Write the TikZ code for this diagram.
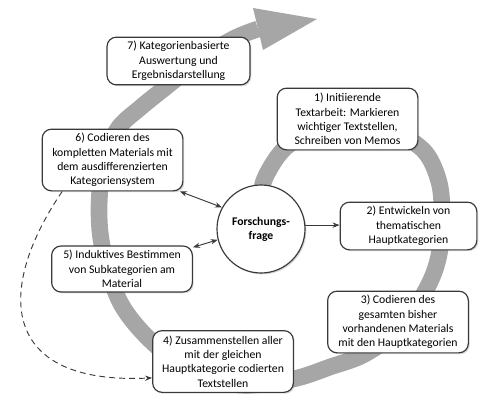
\documentclass[tikz,border=0pt]{standalone}
\usepackage{fontspec}
\setmainfont{Carlito}
\usetikzlibrary{arrows.meta,shadows}

\definecolor{bandgray}{RGB}{166,166,166}
\definecolor{edgegray}{RGB}{58,58,58}

\begin{document}
\begin{tikzpicture}[x=0.03cm,y=-0.03cm,
  >={Stealth[length=6pt,width=4.5pt]},
  stepbox/.style={draw=edgegray,line width=1pt,fill=white,rounded corners=8pt,
    align=center,minimum width=4.22cm,inner sep=2pt,
    font=\fontsize{10}{12.3}\selectfont,
    drop shadow={opacity=0.3,shadow xshift=1.2pt,shadow yshift=-1.2pt}},
  threeline/.style={minimum height=1.43cm},
  fourline/.style={minimum height=1.85cm},
  link/.style={draw=edgegray,line width=0.8pt},
  band/.style={draw=bandgray,line width=0.5cm}]
\useasboundingbox (0,0) rectangle (480,394);

% SPIRAL
\draw[band] plot[smooth,tension=0.55] coordinates {(265,205) (263,183) (283,150)
  (315,130) (355,121) (395,132) (425,152) (439,182) (442,215) (439,255)
  (427,288) (400,328) (365,354) (330,367) (293,379) (240,385) (190,370)
  (150,340) (120,302) (103,250) (99,210) (103,168) (117,130) (140,108)
  (166,87) (205,56) (235,38) (258,29)};
\fill[bandgray] (253,8) -- (317,19) -- (263,50) -- cycle;

% QUESTION
\node[draw=edgegray,line width=1pt,fill=white,circle,minimum size=2.64cm,
  align=center,font=\bfseries,
  drop shadow={opacity=0.3,shadow xshift=1.2pt,shadow yshift=-1.2pt}]
  (q) at (261,229) {Forschungs-\\frage};

% STEPS
\node[stepbox,fourline] (s1) at (347.5,119) {1) Initiierende\\Textarbeit: Markieren\\wichtiger Textstellen,\\Schreiben von Memos};
\node[stepbox,threeline,minimum width=4.1cm] (s2) at (408.5,226) {2) Entwickeln von\\thematischen\\Hauptkategorien};
\node[stepbox,fourline] (s3) at (398,322) {3) Codieren des\\gesamten bisher\\vorhandenen Materials\\mit den Hauptkategorien};
\node[stepbox,fourline] (s4) at (223,361.5) {4) Zusammenstellen aller\\mit der gleichen\\Hauptkategorie codierten\\Textstellen};
\node[stepbox,threeline,minimum height=1.38cm] (s5) at (122,269) {5) Induktives Bestimmen\\von Subkategorien am\\Material};
\node[stepbox,fourline] (s6) at (112.5,160) {6) Codieren des\\kompletten Materials mit\\dem ausdifferenzierten\\Kategoriensystem};
\node[stepbox,threeline,minimum width=4.29cm] (s7) at (178.5,61) {7) Kategorienbasierte\\Auswertung und\\Ergebnisdarstellung};

% LINKS
\draw[link,<->] (s6.-25) -- (q.151);
\draw[link,<->] (s5.17) -- (q.194);
\draw[link,->] (q.5) -- (q.5 -| s2.west);
\draw[link,->,dash pattern=on 5pt off 3.5pt] (s6.212) .. controls (-5,290) and (0,385) .. (s4.193);
\end{tikzpicture}
\end{document}
